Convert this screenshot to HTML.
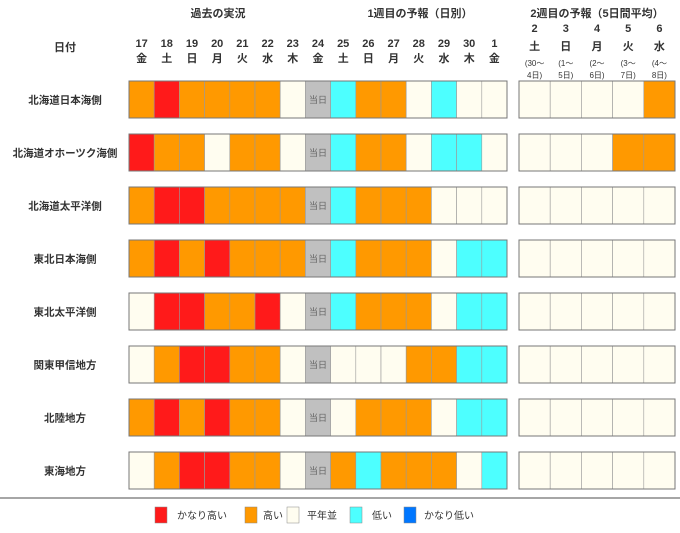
<!DOCTYPE html>
<html><head><meta charset="utf-8"><style>
body{margin:0;background:#fff;}
svg{display:block;font-family:"Liberation Sans","Noto Sans CJK JP",sans-serif;}
</style></head><body>
<svg width="680" height="533" viewBox="0 0 680 533" xmlns="http://www.w3.org/2000/svg">
<g font-size="11" font-weight="bold" fill="#333" text-anchor="middle">
<text x="218" y="17">過去の実況</text>
<text x="420" y="17">1週目の予報（日別）</text>
<text x="597" y="17">2週目の予報（5日間平均）</text>
<text x="65" y="51">日付</text>
</g>
<g id="hdr" font-size="11" font-weight="bold" fill="#333" text-anchor="middle"></g>
<g id="grid"></g>
<line x1="0" y1="498" x2="680" y2="498" stroke="#888" stroke-width="1.5"/>
<g font-size="10" fill="#333">
<rect x="155" y="507" width="12" height="16" fill="#ff1a1a" stroke="#888" stroke-width="0.5"/><text x="177" y="519">かなり高い</text>
<rect x="245" y="507" width="12" height="16" fill="#ff9900" stroke="#888" stroke-width="0.5"/><text x="263" y="519">高い</text>
<rect x="287" y="507" width="12" height="16" fill="#fffdf0" stroke="#888" stroke-width="0.5"/><text x="307" y="519">平年並</text>
<rect x="350" y="507" width="12" height="16" fill="#4dffff" stroke="#888" stroke-width="0.5"/><text x="372" y="519">低い</text>
<rect x="404" y="507" width="12" height="16" fill="#0077ff" stroke="#888" stroke-width="0.5"/><text x="424" y="519">かなり低い</text>
</g>
</svg>
<script>
const ns="http://www.w3.org/2000/svg";
function el(p,t,a,txt){const e=document.createElementNS(ns,t);for(const k in a)e.setAttribute(k,a[k]);if(txt!==undefined)e.textContent=txt;p.appendChild(e);return e;}
const hdr=document.getElementById('hdr'),grid=document.getElementById('grid');
const days=[17,18,19,20,21,22,23,24,25,26,27,28,29,30,1],wd="金土日月火水木金土日月火水木金";
const W1=25.2,X1=129,W2=31.2,X2=519;
days.forEach((d,i)=>{const cx=X1+i*W1+W1/2;el(hdr,'text',{x:cx,y:47},d);el(hdr,'text',{x:cx,y:62},wd[i]);});
const d2=[2,3,4,5,6],w2="土日月火水",p1=["(30～","(1～","(2～","(3～","(4～"],p2=["4日)","5日)","6日)","7日)","8日)"];
d2.forEach((d,i)=>{const cx=X2+i*W2+W2/2;el(hdr,'text',{x:cx,y:32},d);el(hdr,'text',{x:cx,y:50},w2[i]);
el(hdr,'text',{x:cx,y:66,'font-size':8,'font-weight':'normal'},p1[i]);el(hdr,'text',{x:cx,y:78,'font-size':8,'font-weight':'normal'},p2[i]);});
const C={O:"#ff9900",R:"#ff1a1a",W:"#fffdf0",G:"#c0c0c0",C:"#4dffff"};
const data=[
["北海道日本海側","OROOOOWGCOOWCWW","WWWWO"],
["北海道オホーツク海側","ROOWOOWGCOOWCCW","WWWOO"],
["北海道太平洋側","ORROOOOGCOOOWWW","WWWWW"],
["東北日本海側","OROROOOGCOOOWCC","WWWWW"],
["東北太平洋側","WRROORWGCOOOWCC","WWWWW"],
["関東甲信地方","WORROOWGWWWOOCC","WWWWW"],
["北陸地方","OROROOWGWOOOWCC","WWWWW"],
["東海地方","WORROOWGOCOOOWC","WWWWW"]];
data.forEach((r,ri)=>{const y=81+ri*53,h=37;
el(grid,'text',{x:65,y:y+h/2+4,'font-size':10.5,'font-weight':'bold',fill:'#333','text-anchor':'middle'},r[0]);
[...r[1]].forEach((c,i)=>{const x=X1+i*W1;el(grid,'rect',{x:x,y:y,width:W1,height:h,fill:C[c],stroke:'#999','stroke-width':0.6});
if(c=='G')el(grid,'text',{x:x+W1/2,y:y+h/2+3.5,'font-size':9,fill:'#666','text-anchor':'middle'},'当日');});
el(grid,'rect',{x:X1,y:y,width:W1*15,height:h,fill:'none',stroke:'#777','stroke-width':1});
[...r[2]].forEach((c,i)=>{el(grid,'rect',{x:X2+i*W2,y:y,width:W2,height:h,fill:C[c],stroke:'#999','stroke-width':0.6});});
el(grid,'rect',{x:X2,y:y,width:W2*5,height:h,fill:'none',stroke:'#777','stroke-width':1});
});
</script>
</body></html>
